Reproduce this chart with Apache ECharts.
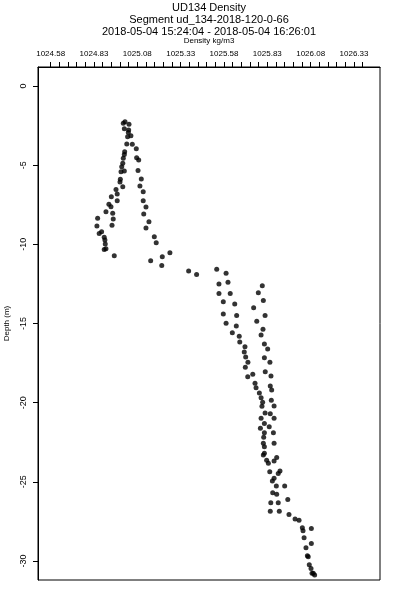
<!DOCTYPE html>
<html><head><meta charset="utf-8">
<script src="https://cdn.jsdelivr.net/npm/echarts@6/dist/echarts.min.js"></script>
<style>html,body{margin:0;padding:0;background:#fff}#c{width:400px;height:600px}</style>
</head><body><div id="c"></div>
<script>
const titleLines = ['UD134 Density', 'Segment ud_134-2018-120-0-66', '2018-05-04 15:24:04 - 2018-05-04 16:26:01'];
const xName = 'Density kg/m3';
const yName = 'Depth (m)';
const xTickLabels = [1024.58, 1024.83, 1025.08, 1025.33, 1025.58, 1025.83, 1026.08, 1026.33];
const yTickLabels = [0, -5, -10, -15, -20, -25, -30];

const density = [
1025.009,1024.999,1025.032,1025.005,1025.030,1025.028,1025.024,1025.043,1025.019,1025.051,
1025.074,1025.007,1025.005,1025.076,1025.088,1024.999,1024.996,1024.990,1024.986,1025.005,
1025.084,1024.982,1024.980,1025.103,1024.996,1025.095,1024.957,1024.964,1025.114,1024.930,
1024.964,1025.114,1024.916,1024.928,1025.130,1024.899,1024.938,1025.117,1024.941,1024.851,
1025.147,1024.847,1024.934,1025.130,1024.874,1024.860,1025.178,1024.889,1024.893,1025.189,
1024.895,1024.889,1024.899,1025.268,1024.947,1025.224,1025.157,1025.221,1025.376,1025.422,
1025.538,1025.592,1025.551,1025.603,1025.551,1025.616,1025.576,1025.642,1025.576,1025.653,
1025.592,1025.651,1025.628,1025.668,1025.671,1025.701,1025.697,1025.705,1025.718,1025.703,
1025.717,1025.746,1025.759,1025.765,1025.784,1025.794,1025.803,1025.799,1025.817,1025.794,
1025.801,1025.778,1025.807,1025.751,1025.817,1025.769,1025.805,1025.794,1025.813,1025.832,
1025.813,1025.845,1025.818,1025.851,1025.847,1025.855,1025.853,1025.869,1025.847,1025.869,
1025.813,1025.841,1025.790,1025.865,1025.813,1025.809,1025.807,1025.869,1025.813,1025.813,
1025.807,1025.884,1025.826,1025.869,1025.836,1025.844,1025.903,1025.893,1025.869,1025.859,
1025.930,1025.882,1025.861,1025.884,1025.948,1025.850,1025.893,1025.847,1025.899,1025.955,
1025.990,1026.013,1026.032,1026.084,1026.036,1026.042,1026.084,1026.053,1026.061,1026.066,
1026.072,1026.082,1026.095,1026.103,1026.088
];
const depth = [
-2.26,-2.36,-2.42,-2.70,-2.78,-2.93,-3.20,-3.14,-3.66,-3.68,
-3.96,-4.15,-4.32,-4.53,-4.68,-4.57,-4.88,-5.10,-5.41,-5.37,
-5.33,-5.89,-6.06,-5.88,-6.36,-6.32,-6.53,-6.82,-6.68,-6.99,
-7.25,-7.25,-7.47,-7.63,-7.64,-7.94,-8.04,-8.09,-8.40,-8.36,
-8.57,-8.84,-8.80,-8.97,-9.20,-9.31,-9.52,-9.56,-9.73,-9.90,
-9.98,-10.32,-10.28,-10.53,-10.72,-10.78,-11.04,-11.33,-11.69,-11.90,
-11.58,-11.83,-12.51,-12.40,-13.10,-13.10,-13.63,-13.77,-14.40,-14.49,
-14.99,-15.16,-15.58,-15.81,-16.17,-16.47,-16.80,-17.12,-17.44,-17.77,
-18.36,-18.21,-18.78,-19.06,-19.39,-19.69,-19.98,-20.23,-20.66,-20.99,
-12.62,-13.06,-13.54,-14.01,-14.49,-14.86,-15.37,-15.73,-16.30,-16.61,
-17.16,-17.45,-18.05,-18.32,-18.95,-19.20,-19.85,-20.21,-20.70,-20.99,
-21.31,-21.52,-21.62,-21.90,-21.90,-22.19,-22.57,-22.57,-22.79,-23.20,
-23.31,-23.46,-23.63,-23.69,-23.83,-24.37,-24.32,-24.47,-24.78,-24.95,
-25.27,-25.27,-25.69,-25.79,-26.11,-26.32,-26.32,-26.85,-26.85,-27.06,
-27.35,-27.42,-27.90,-27.94,-28.09,-28.53,-28.89,-29.17,-29.67,-29.73,
-30.24,-30.47,-30.78,-30.89,-30.78
];

const xMinorTicks = [];
for (let i = 0; i <= 36; i++) xMinorTicks.push(+(xTickLabels[0] + i * 0.05).toFixed(2));

const points = density.map((d, i) => [d, depth[i]]);
const FONT = 'Liberation Sans';

const chart = echarts.init(document.getElementById('c'), null, {renderer: 'canvas'});
chart.setOption({
  animation: false,
  backgroundColor: '#ffffff',
  title: titleLines.map((t, i) => ({
    text: t, left: 209, top: 2 + i * 12, textAlign: 'center', padding: 0,
    textStyle: {fontFamily: FONT, fontSize: 11, fontWeight: 'normal', color: '#000'}
  })),
  grid: {left: 38, top: 67, right: 20, bottom: 20, outerBoundsMode: 'none', containLabel: false,
    show: true, borderColor: '#000', borderWidth: 1, backgroundColor: 'transparent'},
  xAxis: {
    type: 'value', position: 'top', min: 1024.507, max: 1026.48,
    name: xName, nameLocation: 'middle', nameGap: 22,
    nameTextStyle: {fontFamily: FONT, fontSize: 8, color: '#000'},
    axisLine: {show: true, onZero: false, lineStyle: {color: '#000', width: 1}},
    axisTick: {show: true, length: 5, inside: false, lineStyle: {color: '#000'}, customValues: xMinorTicks},
    axisLabel: {show: true, margin: 9, fontFamily: FONT, fontSize: 8, color: '#000',
      customValues: xTickLabels, formatter: v => v.toFixed(2)},
    splitLine: {show: false}
  },
  yAxis: {
    type: 'value', min: -31.2, max: 1.2,
    name: yName, nameLocation: 'middle', nameGap: 26, nameRotate: 90,
    nameTextStyle: {fontFamily: FONT, fontSize: 8, color: '#000'},
    axisLine: {show: true, onZero: false, lineStyle: {color: '#000', width: 1}},
    axisTick: {show: true, length: 5, lineStyle: {color: '#000'}, customValues: yTickLabels},
    axisLabel: {show: true, rotate: 90, margin: 10, fontFamily: FONT, fontSize: 9, color: '#000',
      customValues: yTickLabels},
    splitLine: {show: false}
  },
  series: [{
    type: 'scatter', data: points, symbol: 'circle', symbolSize: 5,
    itemStyle: {color: '#000'}
  }]
});
</script>
</body></html>
